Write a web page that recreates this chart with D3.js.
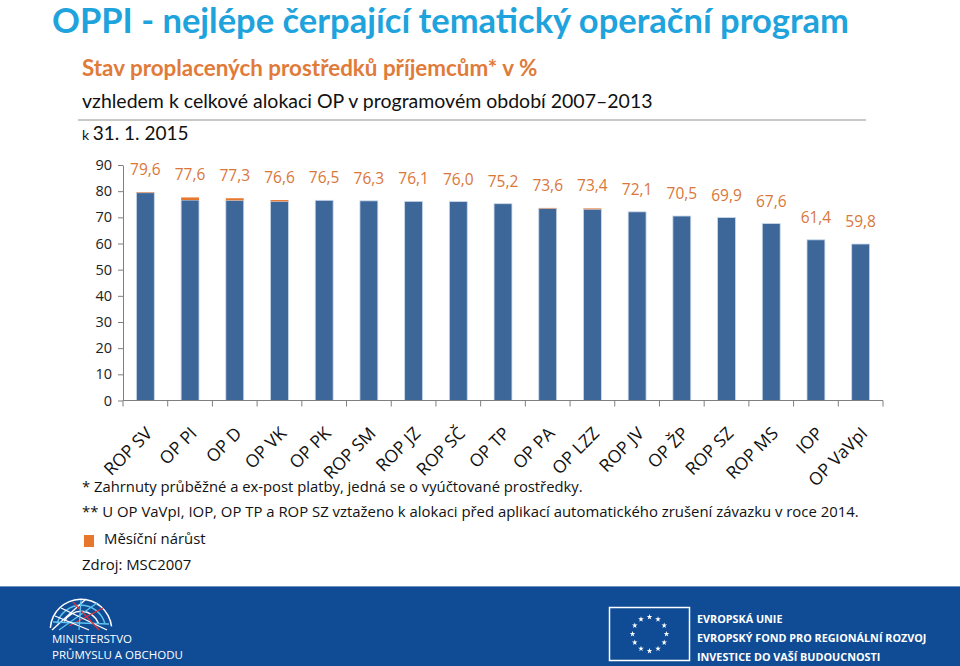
<!DOCTYPE html>
<html>
<head>
<meta charset="utf-8">
<script src="https://cdn.jsdelivr.net/npm/d3@7"></script>
<style>
  body { margin: 0; background: #fff; }
  svg { display: block; }
</style>
</head>
<body>
<div id="chart"></div>
<script>
// Data
const programs = ["ROP SV", "OP PI", "OP D", "OP VK", "OP PK", "ROP SM", "ROP JZ", "ROP SČ", "OP TP",
  "OP PA", "OP LZZ", "ROP JV", "OP ŽP", "ROP SZ", "ROP MS", "IOP", "OP VaVpI"];
const totals = [79.6, 77.6, 77.3, 76.6, 76.5, 76.3, 76.1, 76.0, 75.2, 73.6, 73.4, 72.1, 70.5, 69.9, 67.6, 61.4, 59.8];
// monthly increase (orange part on top)
const increments = [0.2, 1.0, 0.8, 0.5, 0, 0, 0, 0, 0, 0.2, 0.3, 0, 0, 0, 0, 0, 0];
const yTicks = [0, 10, 20, 30, 40, 50, 60, 70, 80, 90];

const W = 960, H = 666;
const blue = "#3d6699", orange = "#e8772e", labelColor = "#d9773a";

const svg = d3.select("#chart").append("svg")
  .attr("width", W)
  .attr("height", H);

// Titles
svg.append("text")
  .attr("x", 52).attr("y", 33)
  .attr("font-family", "Lato, sans-serif")
  .attr("font-weight", "bold")
  .attr("font-size", 34.5)
  .attr("fill", "#1fa3dc")
  .text("OPPI - nejlépe čerpající tematický operační program");

svg.append("text")
  .attr("x", 82).attr("y", 76)
  .attr("font-family", "Lato, sans-serif")
  .attr("font-weight", "bold")
  .attr("font-size", 22.4)
  .attr("fill", "#e07b39")
  .text("Stav proplacených prostředků příjemcům* v %");

svg.append("text")
  .attr("x", 82).attr("y", 108)
  .attr("font-family", "Lato, sans-serif")
  .attr("font-size", 19.5)
  .attr("fill", "#111")
  .text("vzhledem k celkové alokaci OP v programovém období 2007–2013");

svg.append("line")
  .attr("x1", 78).attr("x2", 866)
  .attr("y1", 120).attr("y2", 120)
  .attr("stroke", "#c8c8c8").attr("stroke-width", 2);

const dateText = svg.append("text")
  .attr("x", 82).attr("y", 140)
  .attr("font-family", "Lato, sans-serif")
  .attr("font-size", 19)
  .attr("fill", "#111");
dateText.append("tspan").attr("font-size", 14).text("k ");
dateText.append("tspan").text("31. 1. 2015");

// Chart
const x0 = 123, x1 = 883;
const x = d3.scaleBand()
  .domain(programs)
  .range([x0, x1]);

const y = d3.scaleLinear()
  .domain([0, 90])
  .range([400.5, 165]);

const barW = x.bandwidth() * 0.4;
const chart = svg.append("g");

// y axis
const yAxis = chart.append("g")
  .attr("transform", `translate(${x0},0)`)
  .call(d3.axisLeft(y).tickValues(yTicks).tickSize(5).tickSizeOuter(0).tickFormat(d3.format("d")));
yAxis.select(".domain").attr("stroke", "#7f7f7f");
yAxis.selectAll(".tick line").attr("stroke", "#7f7f7f");
yAxis.selectAll(".tick text")
  .attr("font-family", "Open Sans, sans-serif")
  .attr("font-size", 14.5)
  .attr("fill", "#222")
  .attr("x", -11);

// blue bars (base = total - increment)
chart.selectAll("rect.base")
  .data(programs)
  .enter()
  .append("rect")
  .attr("class", "base")
  .attr("x", d => x(d) + (x.bandwidth() - barW) / 2)
  .attr("y", (d, i) => y(totals[i] - increments[i]))
  .attr("width", barW)
  .attr("height", (d, i) => y(0) - y(totals[i] - increments[i]))
  .attr("fill", blue)
  .attr("stroke", "#c9d7ea")
  .attr("stroke-width", 0.8);

// orange monthly increase
chart.selectAll("rect.inc")
  .data(programs.filter((d, i) => increments[i] > 0))
  .enter()
  .append("rect")
  .attr("class", "inc")
  .attr("x", d => x(d) + (x.bandwidth() - barW) / 2)
  .attr("y", d => y(totals[programs.indexOf(d)]))
  .attr("width", barW)
  .attr("height", d => {
    const i = programs.indexOf(d);
    return y(totals[i] - increments[i]) - y(totals[i]);
  })
  .attr("fill", orange);

// value labels
chart.selectAll("text.val")
  .data(programs)
  .enter()
  .append("text")
  .attr("class", "val")
  .attr("x", d => x(d) + x.bandwidth() / 2)
  .attr("y", (d, i) => y(totals[i]) - 17)
  .attr("text-anchor", "middle")
  .attr("font-family", "Open Sans, sans-serif")
  .attr("font-size", 15.5)
  .attr("fill", labelColor)
  .text((d, i) => d3.format(".1f")(totals[i]).replace(".", ","));

// x axis line and boundary ticks
chart.append("line")
  .attr("x1", x0).attr("x2", x1)
  .attr("y1", y(0)).attr("y2", y(0))
  .attr("stroke", "#7f7f7f");

const bounds = programs.map(d => x(d)).concat([x1]);
chart.selectAll("line.xtick")
  .data(bounds)
  .enter()
  .append("line")
  .attr("class", "xtick")
  .attr("x1", d => d).attr("x2", d => d)
  .attr("y1", y(0)).attr("y2", y(0) + 6)
  .attr("stroke", "#7f7f7f");

chart.selectAll("text.xlab")
  .data(programs)
  .enter()
  .append("text")
  .attr("class", "xlab")
  .attr("transform", d => `translate(${x(d) + x.bandwidth() / 2 + 8},${y(0) + 34}) rotate(-45)`)
  .attr("text-anchor", "end")
  .attr("font-family", "Open Sans, sans-serif")
  .attr("font-size", 17.5)
  .attr("fill", "#111")
  .text(d => d);

// Footnotes
const noteFont = "Open Sans, sans-serif";
svg.append("text")
  .attr("x", 82).attr("y", 492)
  .attr("font-family", noteFont)
  .attr("font-size", 14.8)
  .attr("fill", "#111")
  .text("* Zahrnuty průběžné a ex-post platby, jedná se o vyúčtované prostředky.");

svg.append("text")
  .attr("x", 82).attr("y", 517)
  .attr("font-family", noteFont)
  .attr("font-size", 14.9)
  .attr("fill", "#111")
  .text("** U OP VaVpI, IOP, OP TP a ROP SZ vztaženo k alokaci před aplikací automatického zrušení závazku v roce 2014.");

svg.append("rect")
  .attr("x", 84).attr("y", 535)
  .attr("width", 10).attr("height", 12)
  .attr("fill", orange);

svg.append("text")
  .attr("x", 104).attr("y", 544)
  .attr("font-family", noteFont)
  .attr("font-size", 14.9)
  .attr("fill", "#111")
  .text("Měsíční nárůst");

svg.append("text")
  .attr("x", 82).attr("y", 570)
  .attr("font-family", noteFont)
  .attr("font-size", 14.9)
  .attr("fill", "#111")
  .text("Zdroj: MSC2007");

// Footer band
svg.append("rect")
  .attr("x", 0).attr("y", 586)
  .attr("width", W).attr("height", H - 586)
  .attr("fill", "#0f4c95");
svg.append("line")
  .attr("x1", 0).attr("x2", W)
  .attr("y1", 586.5).attr("y2", 586.5)
  .attr("stroke", "#6f93c0");

// Ministry logo (simple globe of lines)
const logo = svg.append("g").attr("transform", "translate(81,630)");
const arcs = [
  {r: 30, a0: -1.5, a1: 1.45, c: "#ffffff"},
  {r: 24, a0: -1.3, a1: 1.3, c: "#5fc4ef"},
  {r: 18, a0: -1.1, a1: 1.2, c: "#ffffff"}
];
arcs.forEach(a => {
  logo.append("path")
    .attr("d", d3.arc()({innerRadius: a.r, outerRadius: a.r + 1.5, startAngle: a.a0, endAngle: a.a1}))
    .attr("fill", a.c);
});
const spokes = [
  [-29, 0, 5, -31, "#ffffff"], [-22, 0, 16, -27, "#5fc4ef"], [-12, -4, 22, -22, "#e0303a"],
  [-28, -8, 28, -6, "#5fc4ef"], [-20, -22, 26, 0, "#ffffff"], [-8, -28, 18, 0, "#e0303a"],
  [-26, -14, 8, 0, "#ffffff"], [0, -30, -2, 0, "#5fc4ef"]
];
spokes.forEach(s => {
  logo.append("line")
    .attr("x1", s[0]).attr("y1", s[1]).attr("x2", s[2]).attr("y2", s[3])
    .attr("stroke", s[4]).attr("stroke-width", 1.3);
});

svg.append("text")
  .attr("x", 52).attr("y", 643)
  .attr("font-family", "Open Sans, sans-serif")
  .attr("font-size", 11.5)
  .attr("fill", "#fff")
  .text("MINISTERSTVO");
svg.append("text")
  .attr("x", 52).attr("y", 659)
  .attr("font-family", "Open Sans, sans-serif")
  .attr("font-size", 11.5)
  .attr("fill", "#fff")
  .text("PRŮMYSLU A OBCHODU");

// EU flag
svg.append("rect")
  .attr("x", 609.5).attr("y", 607.5)
  .attr("width", 80).attr("height", 53)
  .attr("fill", "none")
  .attr("stroke", "#ffffff")
  .attr("stroke-width", 1.5);
const star = d3.symbol().type(d3.symbolStar).size(10);
d3.range(12).forEach(i => {
  const ang = i / 12 * 2 * Math.PI;
  svg.append("path")
    .attr("d", star())
    .attr("transform", `translate(${649.5 + 17 * Math.sin(ang)},${634 - 17 * Math.cos(ang)})`)
    .attr("fill", "#ffffff");
});

const euLines = ["EVROPSKÁ UNIE", "EVROPSKÝ FOND PRO REGIONÁLNÍ ROZVOJ", "INVESTICE DO VAŠÍ BUDOUCNOSTI"];
euLines.forEach((t, i) => {
  svg.append("text")
    .attr("x", 697).attr("y", 623 + i * 19)
    .attr("font-family", "Open Sans, sans-serif")
    .attr("font-weight", "bold")
    .attr("font-size", 10.8)
    .attr("fill", "#fff")
    .text(t);
});
</script>
</body>
</html>
